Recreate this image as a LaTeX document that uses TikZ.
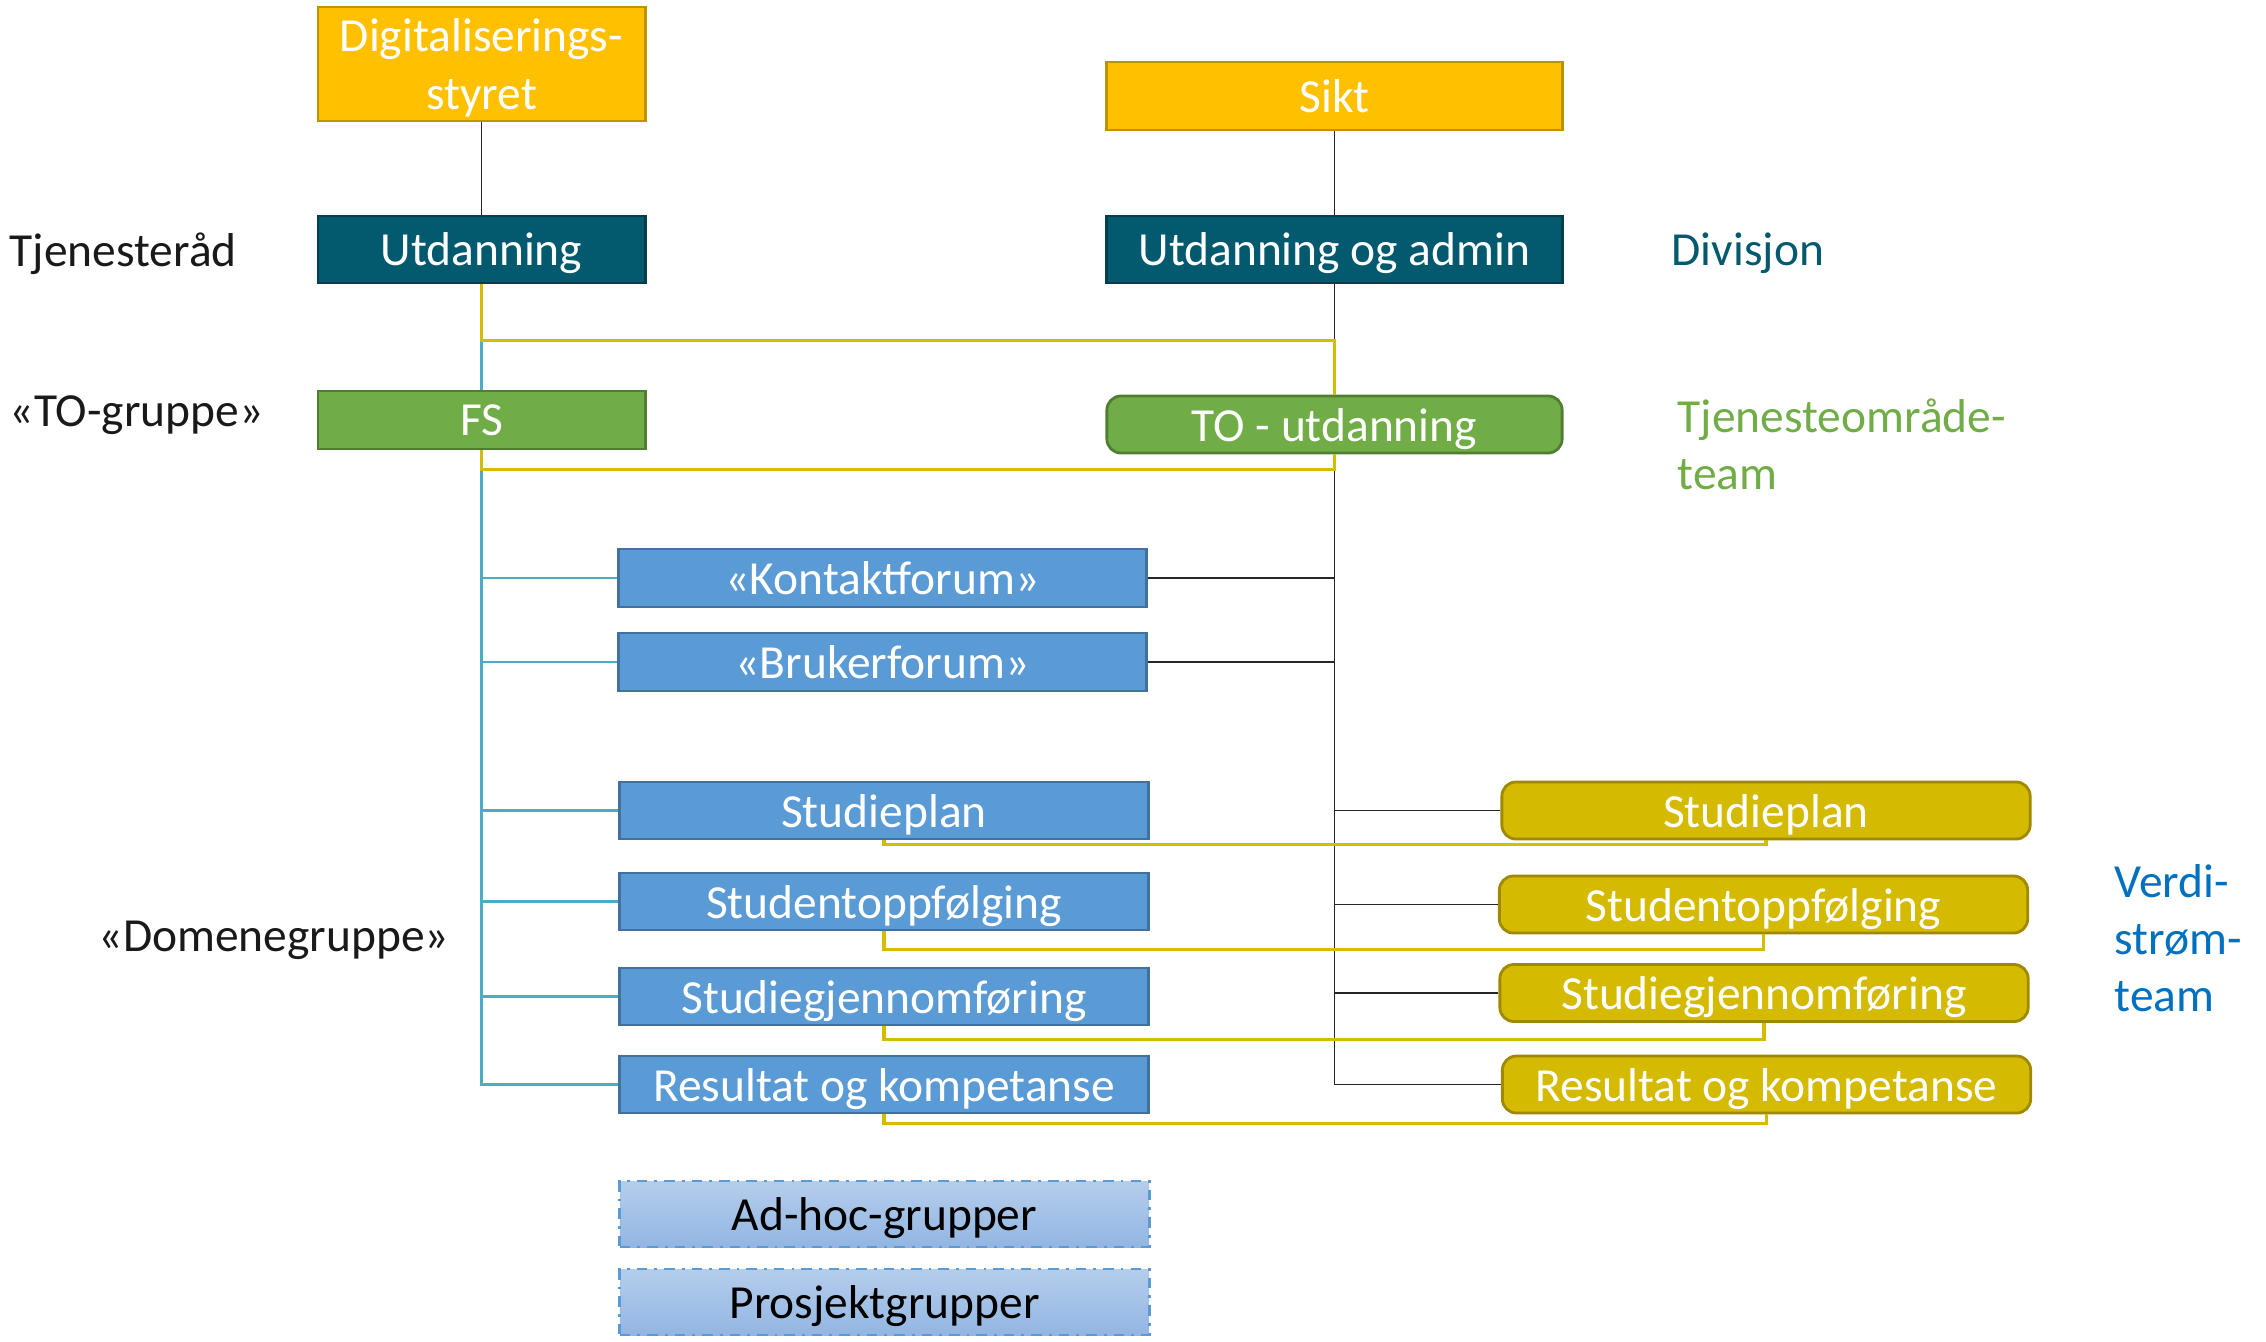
\documentclass[tikz,border=0pt]{standalone}
\usepackage{fontspec}
\setmainfont{Carlito}
\definecolor{gold}{HTML}{FFC000}
\definecolor{golddark}{HTML}{BF9000}
\definecolor{tealbox}{HTML}{035A6E}
\definecolor{tealdark}{HTML}{013F4D}
\definecolor{greenbox}{HTML}{70AD47}
\definecolor{greendark}{HTML}{507E32}
\definecolor{bluebox}{HTML}{5B9BD5}
\definecolor{bluedark}{HTML}{41719C}
\definecolor{olivebox}{HTML}{D4BA00}
\definecolor{olivedark}{HTML}{9E8900}
\definecolor{linegold}{HTML}{D4BC00}
\definecolor{cyanline}{HTML}{4BACC6}
\definecolor{verdiblue}{HTML}{0070C0}
\definecolor{adtop}{HTML}{B5CDEB}
\definecolor{adbot}{HTML}{92B6E2}
\begin{document}
\begin{tikzpicture}[x=0.01cm, y=-0.01cm,
  txt/.style={font=\fontsize{13.5}{16.3}\selectfont},
  orgbox/.style={txt, draw, line width=0.8pt, inner sep=0pt, text=white, align=center, text depth=0pt},
  goldbox/.style={orgbox, fill=gold, draw=golddark},
  tealnode/.style={orgbox, fill=tealbox, draw=tealdark},
  greennode/.style={orgbox, fill=greenbox, draw=greendark},
  bluenode/.style={orgbox, fill=bluebox, draw=bluedark, minimum width=5.28cm, minimum height=0.57cm},
  olivenode/.style={orgbox, fill=olivebox, draw=olivedark, rounded corners=4pt, minimum width=5.28cm, minimum height=0.57cm},
  adhocnode/.style={orgbox, text=black, top color=adtop, bottom color=adbot, draw=bluebox, dash dot, minimum width=5.29cm, minimum height=0.66cm},
  sidelabel/.style={txt, anchor=west, inner sep=0pt, align=left},
  thinline/.style={line width=0.5pt, black!85},
  yline/.style={line width=0.9pt, linegold},
  cline/.style={line width=0.6pt, cyanline}]
\useasboundingbox (0,0) rectangle (2266,1341);
\node[goldbox, minimum width=3.27cm, minimum height=1.14cm] (digi) at (481.5,64) {Digitaliserings-\\styret};
\node[goldbox, minimum width=4.55cm, minimum height=0.68cm] (sikt) at (1334.5,96) {Sikt};
\node[tealnode, minimum width=3.27cm, minimum height=0.67cm] (utd) at (481.5,249.5) {Utdanning};
\node[tealnode, minimum width=4.55cm, minimum height=0.67cm] (uoa) at (1334.5,249.5) {Utdanning og admin};
\node[greennode, minimum width=3.27cm, minimum height=0.58cm] (fs) at (481.5,420) {FS};
\node[greennode, rounded corners=4pt, minimum width=4.55cm, minimum height=0.57cm] (tou) at (1334.5,424.5) {TO - utdanning};
\node[bluenode, minimum height=0.58cm] (kf) at (882.5,578) {«Kontaktforum»};
\node[bluenode, minimum height=0.58cm] (bf) at (882.5,662) {«Brukerforum»};
\node[bluenode] (bsp) at (884,810.5) {Studieplan};
\node[bluenode] (bso) at (884,901.5) {Studentoppfølging};
\node[bluenode] (bsg) at (884,996.5) {Studiegjennomføring};
\node[bluenode] (brk) at (884,1084.5) {Resultat og kompetanse};
\node[olivenode] (ysp) at (1766,810.5) {Studieplan};
\node[olivenode] (yso) at (1763.5,904.5) {Studentoppfølging};
\node[olivenode] (ysg) at (1764,993) {Studiegjennomføring};
\node[olivenode] (yrk) at (1766.5,1084.5) {Resultat og kompetanse};
\node[adhocnode] (adhoc) at (884.5,1214) {Ad-hoc-grupper};
\node[adhocnode] (prosj) at (884.5,1302) {Prosjektgrupper};
\node[sidelabel, text depth=0pt, text=black!90] (tr) at (9,250) {Tjenesteråd};
\node[sidelabel, text depth=0pt, text=black!90] (tog) at (9,411) {«TO-gruppe»};
\node[sidelabel, text depth=0pt, text=black!90] (dg) at (98,936) {«Domenegruppe»};
\node[sidelabel, text depth=0pt, text=tealbox] (div) at (1671,249) {Divisjon};
\node[sidelabel, text=greenbox] (tot) at (1677,444) {Tjenesteområde-\\team};
\node[sidelabel, text=verdiblue] (vst) at (2114,938) {Verdi-\\strøm-\\team};
\draw[thinline] (digi.south) -- (utd.north);
\draw[thinline] (sikt.south) -- (uoa.north);
\draw[thinline] (uoa.south) -- (tou.north);
\draw[cline] (utd.south) -- (fs.north);
\draw[cline] (fs.south) -- (fs.south |- brk.west) -- (brk.west);
\draw[cline] (fs.south |- kf.west) -- (kf.west);
\draw[cline] (fs.south |- bf.west) -- (bf.west);
\draw[cline] (fs.south |- bsp.west) -- (bsp.west);
\draw[cline] (fs.south |- bso.west) -- (bso.west);
\draw[cline] (fs.south |- bsg.west) -- (bsg.west);
\draw[thinline] (tou.south) -- (tou.south |- yrk.west) -- (yrk.west);
\draw[thinline] (kf.east) -- (kf.east -| tou.south);
\draw[thinline] (bf.east) -- (bf.east -| tou.south);
\draw[thinline] (tou.south |- ysp.west) -- (ysp.west);
\draw[thinline] (tou.south |- yso.west) -- (yso.west);
\draw[thinline] (tou.south |- ysg.west) -- (ysg.west);
\draw[yline] (utd.south) -- ++(0,56) -| (tou.north);
\draw[yline] (fs.south) -- ++(0,19) -| (tou.south);
\draw[yline] (bsp.south) -- ++(0,4) -| (ysp.south);
\draw[yline] (bso.south) -- ++(0,18) -| (yso.south);
\draw[yline] (bsg.south) -- ++(0,13) -| (ysg.south);
\draw[yline] (brk.south) -- ++(0,9) -| (yrk.south);
\end{tikzpicture}
\end{document}
